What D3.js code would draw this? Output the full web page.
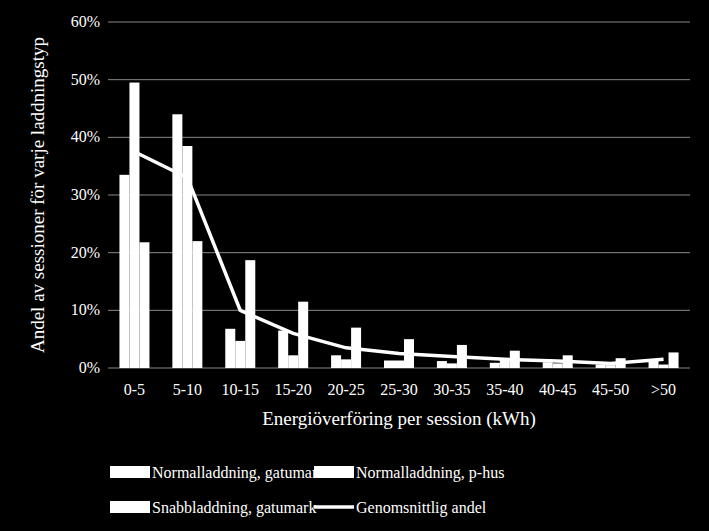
<!DOCTYPE html><html><head><script src="https://cdn.jsdelivr.net/npm/d3@7"></script>
<style>body{margin:0;background:#000}</style></head><body><svg width="709" height="531"></svg>
<script>
const categories=["0-5","5-10","10-15","15-20","20-25","25-30","30-35","35-40","40-45","45-50",">50"];
const gatumark=[33.5,44,6.8,6.5,2.2,1.3,1.2,0.9,1.0,0.6,1.3];
const phus=[49.5,38.5,4.7,2.2,1.5,1.3,0.8,1.5,0.8,0.5,0.6];
const snabb=[21.8,22,18.7,11.5,7,5,4,3,2.2,1.7,2.7];
const snitt=[37.5,33,10,6,3.5,2.5,2,1.5,1.2,0.8,1.5];
const yTicks=[0,10,20,30,40,50,60];
const svg=d3.select("svg");
svg.append("rect").attr("width",709).attr("height",531).attr("fill","#000");
const L=108,R=690,T=22,B=368;
const x=d3.scaleBand().domain(categories).range([L,R]);
const y=d3.scaleLinear().domain([0,60]).range([B,T]);
const f="'Liberation Serif', 'Times New Roman', serif";
svg.append("g").selectAll("line").data(yTicks).join("line").attr("x1",L).attr("x2",R)
 .attr("y1",d=>y(d)).attr("y2",d=>y(d)).attr("stroke","#888").attr("stroke-width",1);
svg.append("g").selectAll("text").data(yTicks).join("text").attr("x",L-8).attr("y",d=>y(d)+5)
 .attr("text-anchor","end").attr("fill","#fff").attr("font-family",f).attr("font-size",16).text(d=>d+"%");
const series=[gatumark,phus,snabb];
const bw=10;
series.forEach((s,i)=>{
 svg.append("g").selectAll("rect").data(s).join("rect")
  .attr("x",(d,j)=>x(categories[j])+x.bandwidth()/2-15+i*bw).attr("width",bw)
  .attr("y",d=>y(d)).attr("height",d=>B-y(d)).attr("fill","#fff");
});
svg.append("path").datum(snitt).attr("fill","none").attr("stroke","#fff").attr("stroke-width",3.5)
 .attr("d",d3.line().x((d,j)=>x(categories[j])+x.bandwidth()/2).y(d=>y(d)));
svg.append("g").selectAll("text").data(categories).join("text").attr("x",d=>x(d)+x.bandwidth()/2).attr("y",B+27)
 .attr("text-anchor","middle").attr("fill","#fff").attr("font-family",f).attr("font-size",16).text(d=>d);
svg.append("text").attr("x",(L+R)/2).attr("y",425).attr("text-anchor","middle").attr("fill","#fff")
 .attr("font-family",f).attr("font-size",19).text("Energiöverföring per session (kWh)");
svg.append("text").attr("transform",`translate(44,${(T+B)/2}) rotate(-90)`).attr("text-anchor","middle").attr("fill","#fff")
 .attr("font-family",f).attr("font-size",19).text("Andel av sessioner för varje laddningstyp");
const leg=[["Normalladdning, gatumark",110,473,"rect"],["Normalladdning, p-hus",314,473,"rect"],["Snabbladdning, gatumark",110,508,"rect"],["Genomsnittlig andel",314,508,"line"]];
leg.forEach(([t,lx,ly,k])=>{
 if(k==="rect")svg.append("rect").attr("x",lx).attr("y",ly-7).attr("width",40).attr("height",12).attr("fill","#fff");
 else svg.append("line").attr("x1",lx).attr("x2",lx+40).attr("y1",ly-1).attr("y2",ly-1).attr("stroke","#fff").attr("stroke-width",3.5);
 svg.append("text").attr("x",lx+42).attr("y",ly+5).attr("fill","#fff").attr("font-family",f).attr("font-size",16).text(t);
});
</script></body></html>
